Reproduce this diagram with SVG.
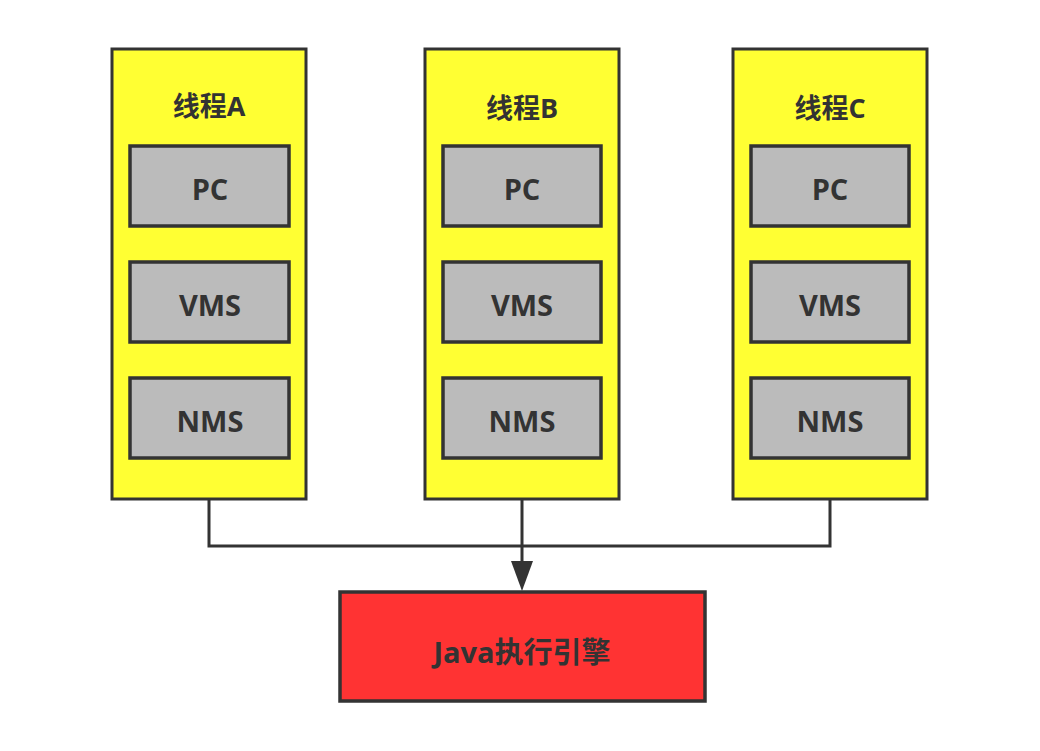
<svg xmlns="http://www.w3.org/2000/svg" width="1040" height="751" viewBox="0 0 1040 751">
<defs>
<style>
.thread{fill:#ffff33;stroke:#333;stroke-width:3}
.inner{fill:#bbbbbb;stroke:#333;stroke-width:3.5}
.engine{fill:#ff3333;stroke:#333;stroke-width:3.5}
.t{font-family:"Open Sans","Liberation Sans","Noto Sans CJK SC",sans-serif;font-weight:bold;fill:#333;text-anchor:middle;dominant-baseline:central}
.title{font-size:27px}
.lbl{font-size:29px}
.conn{fill:none;stroke:#333;stroke-width:3}
.head{fill:#333}
</style>
</defs>
<rect width="1040" height="751" fill="#ffffff"/>
<g id="connectors">
<polyline class="conn" points="209,499 209,546 830,546 830,499"/>
<line class="conn" x1="522" y1="499" x2="522" y2="562"/>
<polygon class="head" points="511,561 533,561 522,591"/>
</g>
<g id="threadA">
<rect class="thread" x="112" y="49" width="194" height="450"/>
<text class="t title" x="209" y="105">线程A</text>
<rect class="inner" x="130" y="146" width="159" height="80"/>
<text class="t lbl" x="210" y="188">PC</text>
<rect class="inner" x="130" y="262" width="159" height="80"/>
<text class="t lbl" x="210" y="304">VMS</text>
<rect class="inner" x="130" y="378" width="159" height="80"/>
<text class="t lbl" x="210" y="420">NMS</text>
</g>
<g id="threadB">
<rect class="thread" x="425" y="49" width="194" height="450"/>
<text class="t title" x="522" y="107">线程B</text>
<rect class="inner" x="443" y="146" width="158" height="80"/>
<text class="t lbl" x="522" y="188">PC</text>
<rect class="inner" x="443" y="262" width="158" height="80"/>
<text class="t lbl" x="522" y="304">VMS</text>
<rect class="inner" x="443" y="378" width="158" height="80"/>
<text class="t lbl" x="522" y="420">NMS</text>
</g>
<g id="threadC">
<rect class="thread" x="733" y="49" width="194" height="450"/>
<text class="t title" x="830" y="107">线程C</text>
<rect class="inner" x="751" y="146" width="158" height="80"/>
<text class="t lbl" x="830" y="188">PC</text>
<rect class="inner" x="751" y="262" width="158" height="80"/>
<text class="t lbl" x="830" y="304">VMS</text>
<rect class="inner" x="751" y="378" width="158" height="80"/>
<text class="t lbl" x="830" y="420">NMS</text>
</g>
<g id="engine">
<rect class="engine" x="340" y="592" width="365" height="109"/>
<text class="t lbl" x="522" y="651">Java执行引擎</text>
</g>
</svg>
